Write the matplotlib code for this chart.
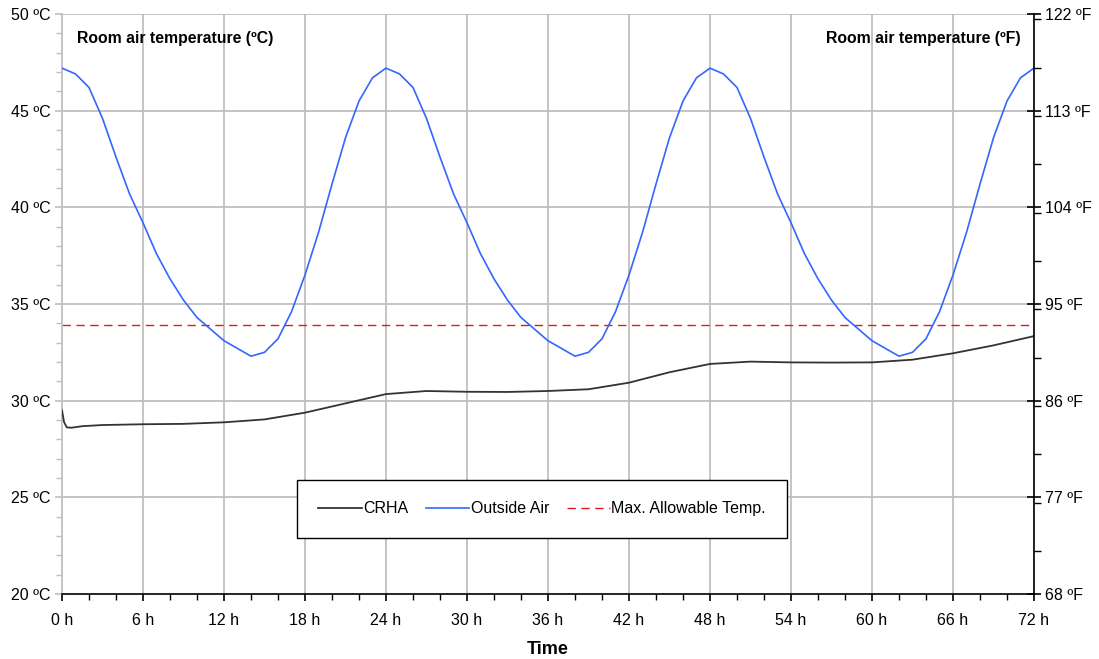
import numpy as np
import matplotlib.pyplot as plt
from matplotlib.ticker import MultipleLocator

plt.rcParams['font.family'] = ['Liberation Sans', 'DejaVu Sans']

# outside air, one design day read hourly (0..23 h), repeated for 3 days
day_outside = [47.2, 46.9, 46.2, 44.6, 42.6, 40.7, 39.2, 37.6, 36.3, 35.2,
               34.3, 33.7, 33.1, 32.7, 32.3, 32.5, 33.2, 34.6, 36.5, 38.7,
               41.2, 43.6, 45.5, 46.7]
outside_hours = list(range(0, 73))
outside_temp = day_outside * 3 + [47.2]

# room air (CRHA)
crha_hours = [0, 0.15, 0.35, 0.7, 1.5, 3, 6, 9, 12, 15, 18, 21, 24, 27, 30,
              33, 36, 39, 42, 45, 48, 51, 54, 57, 60, 63, 66, 69, 72]
crha_temp = [29.5, 28.9, 28.62, 28.6, 28.68, 28.74, 28.78, 28.8, 28.88, 29.03,
             29.38, 29.86, 30.34, 30.5, 30.46, 30.45, 30.5, 30.59, 30.93, 31.47,
             31.9, 32.02, 31.98, 31.97, 31.98, 32.12, 32.45, 32.86, 33.34]

max_allowable = 33.9

x_ticks = list(range(0, 73, 6))
c_ticks = [20, 25, 30, 35, 40, 45, 50]
f_ticks = [68, 77, 86, 95, 104, 113, 122]

fig = plt.figure(figsize=(10.99, 6.59), dpi=100)
ax = fig.add_axes([62 / 1099, 1 - 594 / 659, 972 / 1099, 580 / 659])

grid_col = '#bfbfbf'
for x in x_ticks[1:]:
    ax.axvline(x, color=grid_col, lw=1.3, zorder=0)
for y in c_ticks[1:]:
    ax.axhline(y, color=grid_col, lw=1.3, zorder=0)

ax.plot(crha_hours, crha_temp, color='#333333', lw=1.3, label='CRHA', zorder=3)
ax.plot(outside_hours, outside_temp, color='#3366ff', lw=1.2, label='Outside Air', zorder=3)
ax.plot([0, 72], [max_allowable, max_allowable], color='#e31a1c', lw=1.0,
        ls=(0, (6, 4)), label='Max. Allowable Temp.', zorder=2)

ax.set_xlim(0, 72)
ax.set_ylim(20, 50)
ax.set_xticks(x_ticks)
ax.set_xticklabels([f'{h} h' for h in x_ticks])
ax.xaxis.set_minor_locator(MultipleLocator(2))
ax.set_yticks(c_ticks)
ax.set_yticklabels([f'{c} ºC' for c in c_ticks])
ax.yaxis.set_minor_locator(MultipleLocator(1))

for s in ['top', 'right']:
    ax.spines[s].set_visible(False)
ax.spines['left'].set_color(grid_col)
ax.spines['left'].set_linewidth(1.3)
ax.spines['bottom'].set_color('black')
ax.spines['bottom'].set_linewidth(1.2)

ax.tick_params(axis='x', which='major', direction='out', length=5, width=1.2,
               labelsize=11.5, pad=9)
ax.tick_params(axis='x', which='minor', direction='out', length=4, width=1.0)
ax.tick_params(axis='y', which='major', direction='out', length=5, width=1.2,
               color=grid_col, labelsize=11.5, pad=3)
ax.tick_params(axis='y', which='minor', direction='out', length=4, width=1.0,
               color=grid_col)

ax.set_xlabel('Time', fontsize=13, fontweight='bold', labelpad=9)

ax2 = ax.twinx()
ax2.set_ylim(68, 122)
ax2.set_yticks(f_ticks)
ax2.set_yticklabels([f'{f} ºF' for f in f_ticks])
ax2.yaxis.set_minor_locator(MultipleLocator(4.5))
for s in ['top', 'left', 'bottom']:
    ax2.spines[s].set_visible(False)
ax2.spines['right'].set_linewidth(1.2)
ax2.tick_params(axis='y', which='major', direction='inout', length=10, width=1.2,
                labelsize=11.5, pad=3)
ax2.tick_params(axis='y', which='minor', direction='out', length=5, width=1.0)

fig.text(77 / 1099, 1 - 38 / 659, 'Room air temperature (ºC)', fontsize=11.3,
         fontweight='bold', va='center', ha='left')
fig.text(1021 / 1099, 1 - 38 / 659, 'Room air temperature (ºF)', fontsize=11.3,
         fontweight='bold', va='center', ha='right')

leg = ax.legend(loc='center', bbox_to_anchor=(0.494, 0.1466), ncol=3,
                fontsize=11.5, frameon=True, fancybox=False, edgecolor='black',
                framealpha=1, handlelength=2.7, handletextpad=0.1,
                columnspacing=1.1, borderpad=1.35)
leg.get_frame().set_linewidth(1.0)
leg.set_zorder(5)

fig.savefig('out.png', dpi=100)
